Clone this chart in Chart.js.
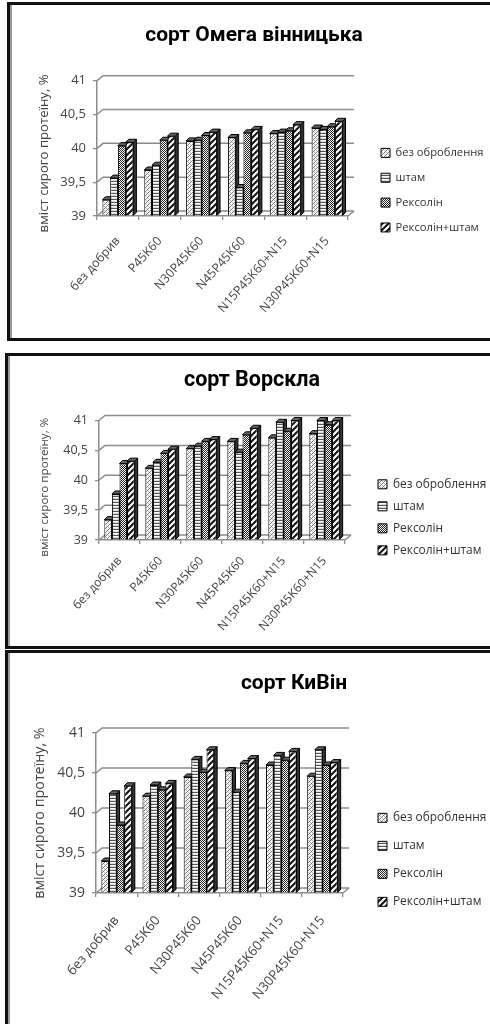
<!DOCTYPE html>
<html><head><meta charset="utf-8">
<script src="https://cdn.jsdelivr.net/npm/chart.js@4"></script>
<style>
html,body{margin:0;padding:0;background:#fff;width:490px;height:1024px;overflow:hidden}
.frame{position:absolute;box-sizing:border-box;border:solid #111;border-width:3px 0 3px 3px}
.frame:after{content:"";position:absolute;left:0;top:0;bottom:0;width:2px;background:#999}
canvas{position:absolute;filter:blur(.45px)}
</style></head><body>
<div class="frame" style="left:7px;top:2px;width:483px;height:339px"></div>
<div class="frame" style="left:5px;top:353px;width:485px;height:296px"></div>
<div class="frame" style="left:5px;top:650px;width:485px;height:380px"></div>
<canvas id="c0"></canvas><canvas id="c1"></canvas><canvas id="c2"></canvas>
<script>
const categories = ['без добрив','P45K60','N30P45K60','N45P45K60','N15P45K60+N15','N30P45K60+N15'];
const seriesNames = ['без оброблення','штам','Рексолін','Рексолін+штам'];
const tickStep = 0.5, axisMin = 39, axisMax = 41;
const axisTitle = 'вміст сирого протеїну, %';

const omegaBase   = [39.24,39.68,40.11,40.16,40.22,40.30];
const omegaStrain = [39.56,39.75,40.12,39.42,40.24,40.28];
const omegaRex    = [40.04,40.12,40.19,40.23,40.26,40.32];
const omegaBoth   = [40.09,40.18,40.24,40.28,40.35,40.40];

const vorsklaBase   = [39.34,40.20,40.53,40.65,40.71,40.78];
const vorsklaStrain = [39.77,40.30,40.57,40.47,40.97,41.00];
const vorsklaRex    = [40.28,40.45,40.65,40.76,40.82,40.93];
const vorsklaBoth   = [40.32,40.52,40.68,40.87,41.00,41.00];

const kyvinBase   = [39.40,40.21,40.45,40.53,40.60,40.46];
const kyvinStrain = [40.24,40.35,40.67,40.26,40.72,40.79];
const kyvinRex    = [39.85,40.29,40.51,40.62,40.66,40.60];
const kyvinBoth   = [40.34,40.37,40.79,40.68,40.77,40.63];

const titles = ['сорт Омега вінницька','сорт Ворскла','сорт КиВін'];
const values = [
  [omegaBase,omegaStrain,omegaRex,omegaBoth],
  [vorsklaBase,vorsklaStrain,vorsklaRex,vorsklaBoth],
  [kyvinBase,kyvinStrain,kyvinRex,kyvinBoth]
];
// panel geometry: canvas top/height, plot box, title centre, legend, label angle, font sizes
const panels = [
 {top:0,  h:345,left:97,right:348,y41:80.7,y39:216,titleX:254,titleY:36,titleSize:21,legX:381,legY:154,legGap:27.1,rot:48,axisDy:5,axisX:44,axisSize:13.2,catSize:12.3,catPad:14,legSize:11.2,tickSize:13},
 {top:345,h:305,left:99,right:345,y41:75.5,y39:195,titleX:252,titleY:36,titleSize:21.5,legX:378,legY:140.5,legGap:24.4,rot:48,axisDy:7,axisX:45,axisSize:11.6,catSize:12,catPad:10,legSize:11.9,tickSize:12.5},
 {top:650,h:374,left:96,right:343,y41:83,  y39:243,titleX:294,titleY:34,titleSize:21,legX:378,legY:169,legGap:30.4,rot:50,axisDy:0,axisX:40,axisSize:14.3,catSize:13.2,catPad:16,legSize:11.9,tickSize:14}
];

function tile(size,paint){
  const c=document.createElement('canvas');c.width=c.height=size;
  const x=c.getContext('2d');x.fillStyle='#fff';x.fillRect(0,0,size,size);x.fillStyle='#222';paint(x);
  return x.createPattern(c,'repeat');
}
const patterns=[
  tile(4,x=>{x.fillStyle='#777';x.fillRect(0,0,1,1);x.fillRect(2,2,1,1);x.fillRect(1,3,1,1);x.fillRect(3,1,1,1);x.fillStyle='#bbb';x.fillRect(2,0,1,1);x.fillRect(0,2,1,1);}),
  tile(3,x=>{x.fillStyle='#555';x.fillRect(0,1,3,1);x.fillStyle='#ddd';x.fillRect(0,0,3,1);}),
  tile(2,x=>{x.fillStyle='#222';x.fillRect(0,0,1,1);x.fillRect(1,1,1,1);}),
  tile(6,x=>{x.strokeStyle='#111';x.lineWidth=2;x.beginPath();
    x.moveTo(-3,3);x.lineTo(3,-3);x.moveTo(0,6);x.lineTo(6,0);x.moveTo(3,9);x.lineTo(9,3);x.stroke();})
];
const DX=3, DY=3, WX=6, WY=5;

const wall3d={
  id:'wall3d',
  beforeLayout(chart,a,o){
    const lg=chart.legend;
    if(!lg._fitWrapped){lg._fitWrapped=true;const f=lg.fit;lg.fit=function(){f.call(this);this.width=0;};}
    const ys=chart.scales.y;
    if(!ys._shifted){ys._shifted=true;const d=ys.drawTitle;
      ys.drawTitle=function(){const c=this.ctx;c.save();c.translate(0,o.p.axisDy);d.apply(this,arguments);c.restore();};}
  },
  afterLayout(chart,a,o){
    const p=o.p,t=chart.titleBlock,l=chart.legend,fs=p.titleSize;
    t.left=p.titleX-200;t.right=p.titleX+200;t.top=p.titleY-fs*0.6;t.bottom=t.top+fs*1.2;
    const lh=p.legSize*1.2,pad=p.legGap-lh;
    l.left=p.legX-pad;l.right=490;l.width=110;l.top=p.legY-pad-lh/2;l.bottom=p.h;
  },
  beforeDatasetsDraw(chart){
    const c=chart.ctx,y=chart.scales.y,a=chart.chartArea;
    c.save();c.strokeStyle='#8c8c8c';c.lineWidth=1.5;
    y.ticks.forEach(t=>{const py=y.getPixelForValue(t.value);
      c.beginPath();c.moveTo(a.left,py);c.lineTo(a.left+WX,py-WY);c.lineTo(a.right+WX,py-WY);c.stroke();});
    const b=y.getPixelForValue(axisMin);
    c.beginPath();c.moveTo(a.right,b);c.lineTo(a.right+WX,b-WY);c.stroke();
    c.restore();
    for(let i=0;i<chart.data.datasets.length;i++){
      chart.getDatasetMeta(i).data.forEach(el=>{
        const l=el.x-el.width/2,r=el.x+el.width/2,t=el.y,bt=el.base;
        c.save();c.strokeStyle='#000';c.lineWidth=1;
        c.fillStyle='#333';c.beginPath();
        c.moveTo(r,t);c.lineTo(r+DX,t-DY);c.lineTo(r+DX,bt-DY);c.lineTo(r,bt);c.closePath();c.fill();c.stroke();
        c.fillStyle='#666';c.beginPath();
        c.moveTo(l,t);c.lineTo(l+DX,t-DY);c.lineTo(r+DX,t-DY);c.lineTo(r,t);c.closePath();c.fill();c.stroke();
        c.restore();
        el.draw(c);
      });
    }
    return false;
  }
};

panels.forEach((p,i)=>{
  const cv=document.getElementById('c'+i);
  cv.width=490;cv.height=p.h;cv.style.top=p.top+'px';cv.style.left='0';
  const fam='"Open Sans",sans-serif';
  new Chart(cv,{
    type:'bar',
    plugins:[wall3d],
    data:{labels:categories,datasets:seriesNames.map((n,k)=>({
      label:n,data:values[i][k],base:axisMin,backgroundColor:patterns[k],borderColor:'#000',borderWidth:1,
      categoryPercentage:0.74,barPercentage:1
    }))},
    options:{
      responsive:false,animation:false,
      layout:{padding:{left:0,right:490-p.right,top:p.y41-p.titleSize*1.2,bottom:0}},
      scales:{
        x:{
          afterFit:s=>{s.height=p.h-p.y39;},
          grid:{drawOnChartArea:false,drawTicks:true,tickLength:4,color:'#8c8c8c',lineWidth:1.3},
          border:{color:'#8c8c8c',width:1.5},
          ticks:{minRotation:p.rot,maxRotation:p.rot,autoSkip:false,color:'#444',padding:p.catPad,font:{family:fam,size:p.catSize}}
        },
        y:{
          min:axisMin,max:axisMax,
          afterFit:s=>{s.width=p.left;},
          grid:{drawOnChartArea:false,drawTicks:true,tickLength:4,color:'#8c8c8c',lineWidth:1.3},
          border:{color:'#8c8c8c',width:1.5},
          ticks:{stepSize:tickStep,color:'#444',padding:7,font:{family:fam,size:p.tickSize},
            callback:v=>String(v).replace('.',',')},
          title:{display:true,text:axisTitle,color:'#444',font:{family:fam,size:p.axisSize},padding:{top:p.axisX-p.axisSize*0.6,bottom:0}}
        }
      },
      plugins:{
        wall3d:{p},
        title:{display:true,text:titles[i],color:'#000',padding:0,font:{family:'Roboto,sans-serif',size:p.titleSize,weight:'bold',lineHeight:1.2}},
        legend:{display:true,position:'right',align:'start',
          labels:{boxWidth:9,boxHeight:9,padding:p.legGap-p.legSize*1.2,color:'#333',font:{family:fam,size:p.legSize,lineHeight:1.2}}},
        tooltip:{enabled:false}
      }
    }
  });
});
</script>
</body></html>
